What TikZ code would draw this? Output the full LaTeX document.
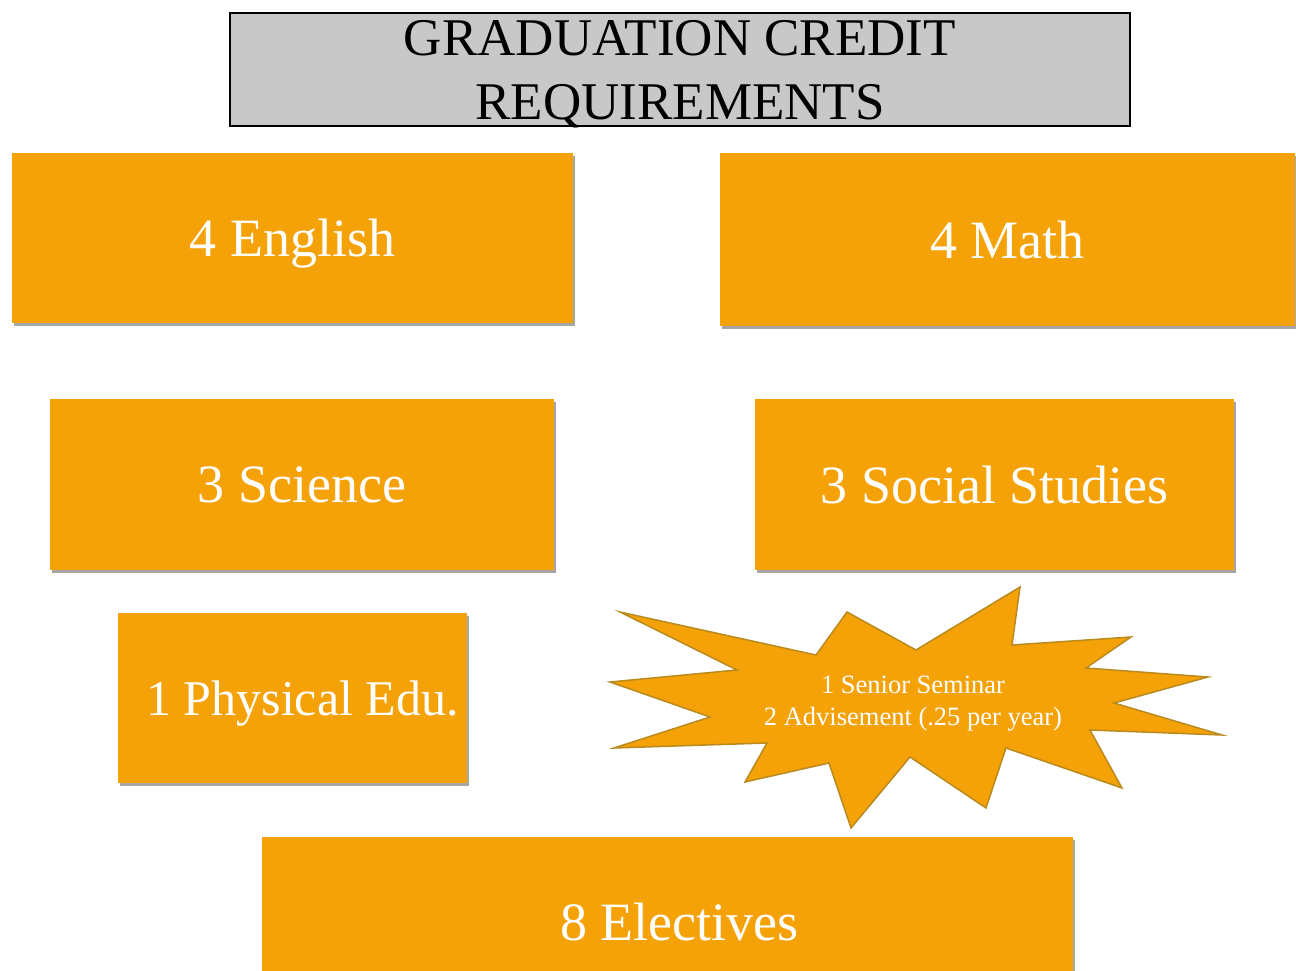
\documentclass[tikz,border=0pt]{standalone}
\usepackage{fontspec}
\setmainfont{Liberation Serif}
\usetikzlibrary{shadows}
\definecolor{creditorange}{HTML}{F4A208}
\definecolor{burstedge}{HTML}{B98A1E}
\definecolor{titlegrey}{HTML}{C8C8C8}
\tikzset{
    credit-box/.style = {fill=creditorange, rectangle, text=white, inner sep=0pt, text depth=0pt, minimum height=170pt, font=\fontsize{54}{60}\selectfont, drop shadow={shadow xshift=1.5pt, shadow yshift=-3pt, fill=black, opacity=0.35}},
    title-box/.style = {fill=titlegrey, draw=black, line width=1.2pt, rectangle, minimum width=900pt, minimum height=113pt},
    title-text/.style = {font=\fontsize{53}{64}\selectfont, align=center, inner sep=0pt},
    burst-shape/.style = {fill=creditorange, draw=burstedge, line width=1.5pt, line join=miter},
    burst-text/.style = {text=white, font=\fontsize{26.5}{32}\selectfont, align=center, inner sep=0pt},
}

\begin{document}
\begin{tikzpicture}[x=1pt, y=-1pt]
\clip (0,0) rectangle (1296,971);
\node [title-box] (title) at (680,69.5) {};
\node [title-text, anchor=north] (titletext) at (680,20) {GRADUATION CREDIT\\REQUIREMENTS};

\node [credit-box, minimum width=561pt] (english) at (292.5,238) {4 English};
\node [credit-box, minimum width=575pt, minimum height=173pt] (math) at (1007.5,239.5) {4 Math};
\node [credit-box, minimum width=504pt, minimum height=171pt] (science) at (302,484.5) {3 Science};
\node [credit-box, minimum width=479pt, minimum height=171pt] (social) at (994.5,484.5) {3 Social Studies};
\node [credit-box, minimum width=349pt, font=\fontsize{50}{56}\selectfont] (physical) at (292.5,698) {\hspace*{20pt}1 Physical Edu.};

\draw [burst-shape] (620,612) -- (816,655) -- (847,612) -- (916,650) -- (1020,587)
    -- (1012,645) -- (1131,637) -- (1086,668) -- (1208,677) -- (1114,703)
    -- (1222,735) -- (1090,730) -- (1122,788) -- (1006,748) -- (986,808)
    -- (910,757) -- (851,828) -- (829,763) -- (745,782) -- (767,743)
    -- (614,748) -- (710,717) -- (610,682) -- (737,670) -- cycle;
\node [burst-text] (seminar) at (913,704) {1 Senior Seminar\\2 Advisement (.25 per year)};

\node [credit-box, minimum width=811pt] (electives) at (667.5,922) {\hspace*{24pt}8 Electives};
\end{tikzpicture}
\end{document}
